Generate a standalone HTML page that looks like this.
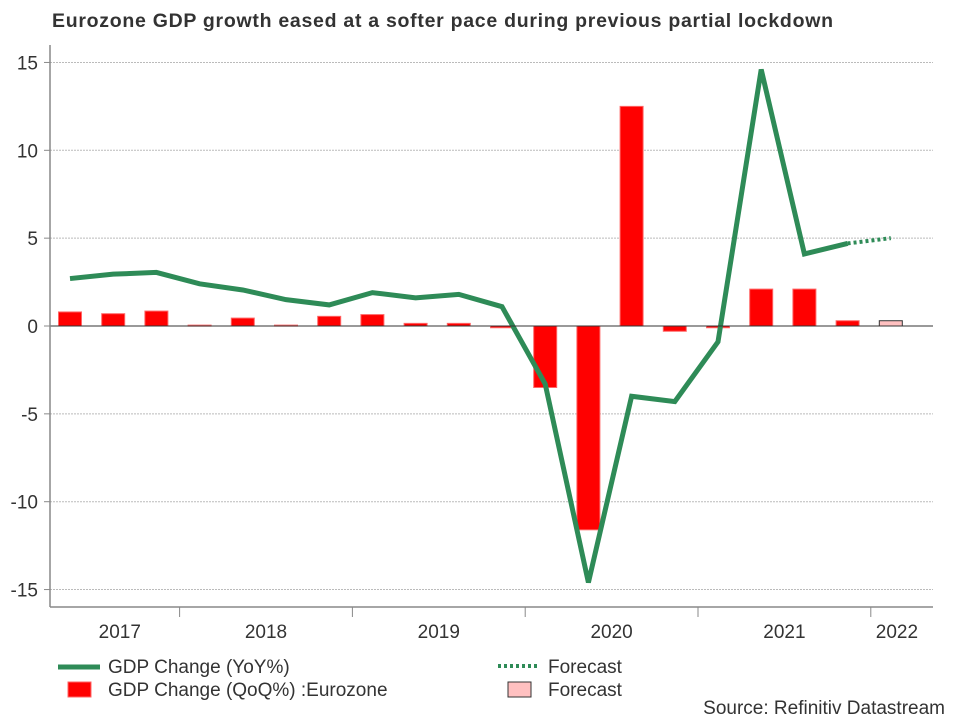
<!DOCTYPE html>
<html><head><meta charset="utf-8"><style>
body{margin:0;background:#fff;font-family:"Liberation Sans",Arial,sans-serif}
</style></head><body>
<svg id="chart" width="960" height="720" xmlns="http://www.w3.org/2000/svg" font-family="Liberation Sans, Arial, sans-serif">
<text x="52" y="27" font-size="19.5" font-weight="bold" fill="#333" textLength="781" lengthAdjust="spacing">Eurozone GDP growth eased at a softer pace during previous partial lockdown</text>
<g id="grid"></g><g id="bars"></g><g id="lines"></g><g id="axes"></g>
<g font-size="19" fill="#333">
<line x1="58" y1="667" x2="100" y2="667" stroke="#2e8b57" stroke-width="5"/>
<text x="108" y="673" fill="#333">GDP Change (YoY%)</text>
<rect x="68" y="682" width="23" height="15" fill="#ff0000" stroke="#ff6666"/>
<text x="108" y="696" fill="#333">GDP Change (QoQ%) :Eurozone</text>
<line x1="498" y1="666" x2="540" y2="666" stroke="#2e8b57" stroke-width="4" stroke-dasharray="3,3"/>
<text x="548" y="673" fill="#333">Forecast</text>
<rect x="508" y="682" width="23" height="15" fill="#ffc0c0" stroke="#333"/>
<text x="548" y="696" fill="#333">Forecast</text>
</g>
<text x="945" y="714" font-size="19" fill="#333" text-anchor="end">Source: Refinitiv Datastream</text>
</svg>
<script>
const yTicks=[15,10,5,0,-5,-10,-15];
const years=["2017","2018","2019","2020","2021","2022"];
const yearStartSlot=[0,3,7,11,15,19];
const qoq=[0.8,0.7,0.85,0.05,0.45,0.05,0.55,0.65,0.15,0.15,-0.1,-3.5,-11.6,12.5,-0.3,-0.1,2.1,2.1,0.3,0.3];
const yoy=[2.7,2.95,3.05,2.4,2.05,1.5,1.2,1.9,1.6,1.8,1.1,-3.3,-14.6,-4.0,-4.3,-0.9,14.6,4.1,4.7];
const yoyForecast=[4.7,5.0];
const forecastStart=18;
const ns="http://www.w3.org/2000/svg";
const X0=50,X1=933,slot=43.2;
const y=v=>326-v*17.57;
const xc=i=>70+slot*i;
const boundary=s=>X0+slot*s;
function mk(tag,attrs,parent){const e=document.createElementNS(ns,tag);for(const k in attrs)e.setAttribute(k,attrs[k]);document.getElementById(parent).appendChild(e);return e;}
yTicks.forEach(t=>{
 if(t!==0){const g=mk('line',{x1:X0,x2:X1,y1:y(t),y2:y(t),stroke:'#bbb','stroke-dasharray':'2,1','stroke-width':1},'grid');
 
 }
 const tk=mk('line',{x1:X0-6,x2:X0,y1:y(t),y2:y(t),stroke:'#888','stroke-width':1},'axes');
 
 
 const l=mk('text',{x:38,y:y(t)+7,'font-size':19,fill:'#333','text-anchor':'end'},'axes');l.textContent=t;
 
 
});
qoq.forEach((v,i)=>{
 const fc=i===qoq.length-1;
 const top=Math.min(y(v),y(0)),h=Math.max(Math.abs(y(v)-y(0)),1);
 const b=mk('rect',{x:xc(i)-11.5,y:top,width:23,height:h,fill:fc?'#ffc0c0':'#ff0000',stroke:fc?'#333':'#ff6666','stroke-width':1},'bars');
 
 
});
const p=mk('polyline',{points:yoy.map((v,i)=>xc(i)+','+y(v)).join(' '),fill:'none',stroke:'#2e8b57','stroke-width':5,'stroke-linejoin':'miter'},'lines');


const f=mk('polyline',{points:yoyForecast.map((v,i)=>xc(forecastStart+i)+','+y(v)).join(' '),fill:'none',stroke:'#2e8b57','stroke-width':4,'stroke-dasharray':'3,3'},'lines');


const z=mk('line',{x1:X0,x2:X1,y1:y(0),y2:y(0),stroke:'#333','stroke-width':1},'axes');


const ya=mk('line',{x1:X0,x2:X0,y1:45,y2:607,stroke:'#888','stroke-width':1.5},'axes');


const xa=mk('line',{x1:X0,x2:X1,y1:607,y2:607,stroke:'#888','stroke-width':1.5},'axes');


years.forEach((yr,i)=>{
 const left=i===0?X0:boundary(yearStartSlot[i]);
 const right=i<years.length-1?boundary(yearStartSlot[i+1]):X1;
 if(i>0){const t=mk('line',{x1:left,x2:left,y1:607,y2:617,stroke:'#888','stroke-width':1},'axes');
 
 }
 const cx=(left+right)/2+(i===0?5:0)-(i===years.length-1?5:0);
 const l=mk('text',{x:cx,y:638,'font-size':19,fill:'#333','text-anchor':'middle'},'axes');l.textContent=yr;
 
 
});
</script>
</body></html>
